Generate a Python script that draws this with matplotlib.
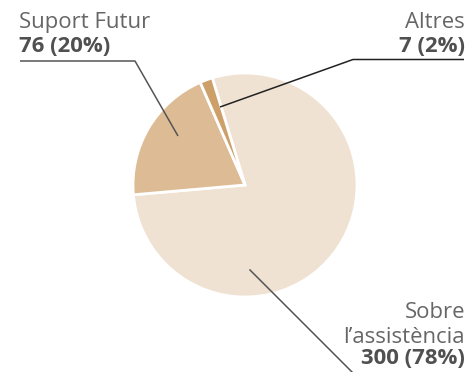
import matplotlib
matplotlib.use("Agg")
import matplotlib.pyplot as plt

# respostes per categoria
labels = ["Sobre\nl\u2019assist\u00e8ncia", "Suport Futur", "Altres"]
values = [300, 76, 7]
colors = ["#f0e2d2", "#ddbc95", "#cda06a"]

W, H = 468, 372
fig = plt.figure(figsize=(W / 100, H / 100), dpi=100)
ax = fig.add_axes([0, 0, 1, 1])

cx, cy, r = 245, H - 185, 112
wedges, _ = ax.pie(values, colors=colors, startangle=107, counterclock=False,
                   center=(cx, cy), radius=r, frame=True,
                   wedgeprops=dict(edgecolor="white", linewidth=2))
ax.set_xlim(0, W)
ax.set_ylim(0, H)
ax.set_aspect("equal")
ax.axis("off")

total = sum(values)
pct = [round(v / total * 100) for v in values]

font = ["Open Sans", "DejaVu Sans"]
fs = 15.9
grey = "#666666"
dark = "#505050"

def py(y):
    # y mesurada des de dalt
    return H - y

# Suport Futur
ax.plot([178, 135, 20], [py(136), py(61), py(61)], color="#555555", lw=1.1,
        solid_capstyle="butt")
ax.text(19, py(28.3), labels[1], fontsize=fs, color=grey, family=font, va="baseline")
ax.text(19, py(52.3), f"{values[1]} ({pct[1]}%)", fontsize=fs, color=dark,
        family=font, weight="bold", va="baseline")

# Altres
ax.plot([220, 353, 464], [py(107), py(59.5), py(59.5)], color="#222222", lw=1.1,
        solid_capstyle="butt")
ax.text(465, py(28.3), labels[2], fontsize=fs, color=grey, family=font,
        va="baseline", ha="right")
ax.text(465, py(52.3), f"{values[2]} ({pct[2]}%)", fontsize=fs, color=dark,
        family=font, weight="bold", va="baseline", ha="right")

# Sobre l'assistència
ax.plot([250, 356], [py(270), py(376)], color="#555555", lw=1.1, clip_on=False)
l1, l2 = labels[0].split("\n")
ax.text(465, py(318.3), l1, fontsize=fs, color=grey, family=font,
        va="baseline", ha="right")
ax.text(465, py(343), l2, fontsize=fs, color=grey, family=font,
        va="baseline", ha="right")
ax.text(465, py(364.5), f"{values[0]} ({pct[0]}%)", fontsize=fs, color=dark,
        family=font, weight="bold", va="baseline", ha="right")

fig.savefig("out.png", dpi=100)
